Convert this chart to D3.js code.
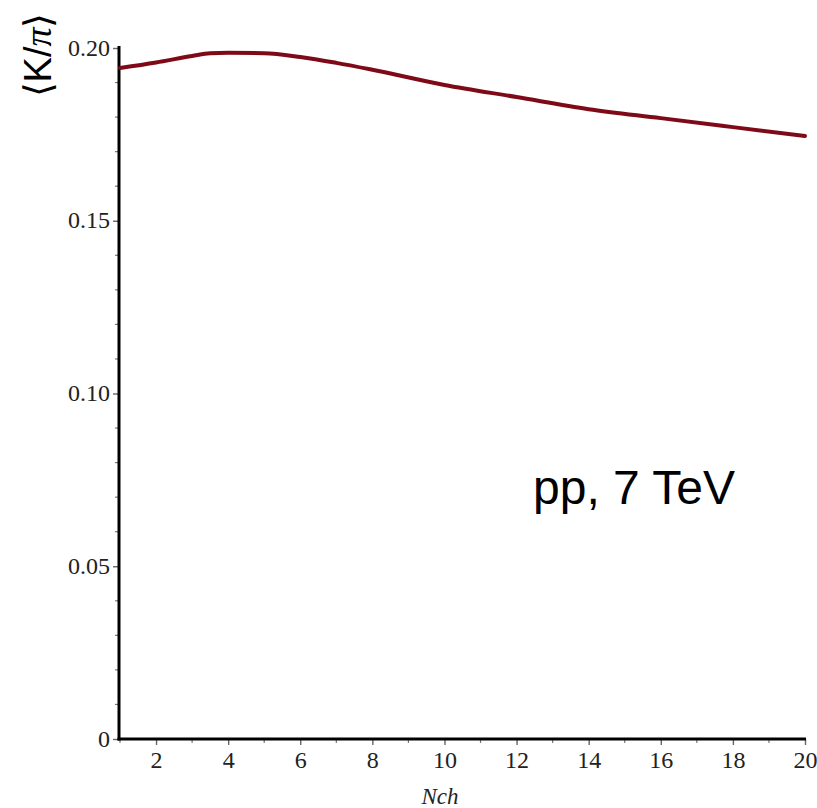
<!DOCTYPE html>
<html><head><meta charset="utf-8">
<script src="https://cdn.jsdelivr.net/npm/d3@7"></script>
<style>body{margin:0;background:#fff}svg{display:block}</style>
</head><body>
<svg id="c" width="817" height="808"></svg>
<script>
const nch = [1, 2, 3, 3.5, 4, 5, 6, 7, 8, 10, 12, 14, 16, 18, 20];
const ratio = [0.1942, 0.1958, 0.1977, 0.1985, 0.1986, 0.1985, 0.1974, 0.1957, 0.1937, 0.1893, 0.1858, 0.1823, 0.1797, 0.1771, 0.1745];
const xTicks = [2, 4, 6, 8, 10, 12, 14, 16, 18, 20];
const yTicks = [0, 0.05, 0.10, 0.15, 0.20];
const yTickLabels = ["0", "0.05", "0.10", "0.15", "0.20"];
const xLabel = "Nch";
const note = "pp, 7 TeV";

const svg = d3.select("#c");
const x = d3.scaleLinear().domain([1, 20]).range([120, 805]);
const y = d3.scaleLinear().domain([0, 0.2]).range([739, 48]);

// minor ticks
const xMinor = d3.range(1, 21, 1).filter(v => !xTicks.includes(v));
svg.append("g").selectAll("line").data(xMinor).join("line")
  .attr("x1", d => x(d)).attr("x2", d => x(d)).attr("y1", 739).attr("y2", 743)
  .attr("stroke", "#777").attr("stroke-width", 1.2);
const yMinor = d3.range(0, 21).map(i => i * 0.01).filter(v => Math.abs(Math.round(v * 100) % 5) !== 0);
svg.append("g").selectAll("line").data(yMinor).join("line")
  .attr("x1", 115).attr("x2", 120).attr("y1", d => y(d)).attr("y2", d => y(d))
  .attr("stroke", "#777").attr("stroke-width", 1.2);

// x axis
const xAxis = d3.axisBottom(x).tickValues(xTicks).tickSize(6).tickPadding(8).tickSizeOuter(0);
const gx = svg.append("g").attr("transform", "translate(0,739)").call(xAxis);
gx.select(".domain").remove();
gx.selectAll(".tick line").attr("stroke", "#666").attr("stroke-width", 1.4);
gx.selectAll(".tick text").attr("font-family", "Liberation Serif").attr("font-size", 24)
  .attr("fill", "#222").attr("dy", "0.62em");

// y axis
const yAxis = d3.axisLeft(y).tickValues(yTicks).tickFormat((d, i) => yTickLabels[i]).tickSize(6).tickPadding(3).tickSizeOuter(0);
const gy = svg.append("g").attr("transform", "translate(119,0)").call(yAxis);
gy.select(".domain").remove();
gy.selectAll(".tick line").attr("stroke", "#666").attr("stroke-width", 1.4);
gy.selectAll(".tick text").attr("font-family", "Liberation Serif").attr("font-size", 24)
  .attr("fill", "#222").attr("dy", "0.3em");

// axis lines
svg.append("line").attr("x1", 119).attr("x2", 119).attr("y1", 46).attr("y2", 740.5)
  .attr("stroke", "#000").attr("stroke-width", 3);
svg.append("line").attr("x1", 117.5).attr("x2", 806).attr("y1", 739).attr("y2", 739)
  .attr("stroke", "#000").attr("stroke-width", 3);

// curve
const line = d3.line().x((d, i) => x(nch[i])).y(d => y(d)).curve(d3.curveMonotoneX);
svg.append("path").attr("d", line(ratio)).attr("fill", "none")
  .attr("stroke", "#7f0a17").attr("stroke-width", 4).attr("stroke-linecap", "round");

// labels
svg.append("text").attr("x", 440).attr("y", 804).attr("text-anchor", "middle")
  .attr("font-family", "Liberation Serif").attr("font-style", "italic").attr("font-size", 23)
  .attr("fill", "#222").text(xLabel);
const yl = svg.append("text").attr("transform", "translate(51,55) rotate(-90)").attr("text-anchor", "middle")
  .attr("font-family", "Liberation Sans").attr("font-size", 38).attr("fill", "#000");
yl.append("tspan").text("\u27E8K/");
yl.append("tspan").attr("font-family", "Liberation Serif").attr("font-style", "italic").text("\u03C0");
yl.append("tspan").text("\u27E9");
svg.append("text").attr("x", 533).attr("y", 504)
  .attr("font-family", "Liberation Sans").attr("font-size", 48).attr("fill", "#000").text(note);
</script>
</body></html>
